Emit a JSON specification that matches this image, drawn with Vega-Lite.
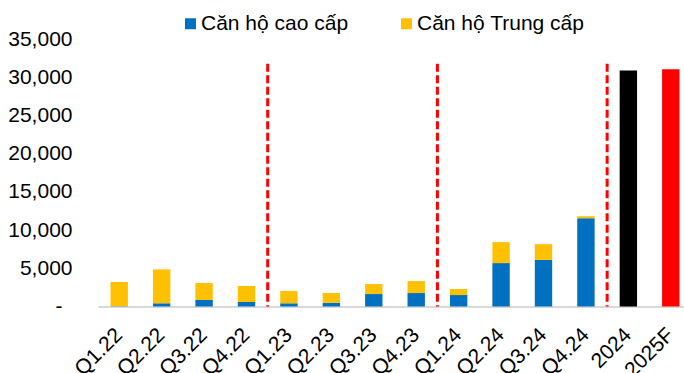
{
  "$schema": "https://vega.github.io/schema/vega-lite/v6.json",
  "width": 586,
  "height": 267.5,
  "autosize": "none",
  "padding": {"left": 98, "top": 39, "right": 0, "bottom": 66.5},
  "config": {
    "view": {"stroke": null},
    "font": "Liberation Sans",
    "axis": {"labelFont": "Liberation Sans", "labelColor": "#000000", "labelFontSize": 21, "labelOverlap": false, "labelSeparation": 0}
  },
  "datasets": {
    "supply": [
      {"cat": "Q1.22", "type": "Căn hộ cao cấp", "value": 30},
      {"cat": "Q1.22", "type": "Căn hộ Trung cấp", "value": 3170},
      {"cat": "Q2.22", "type": "Căn hộ cao cấp", "value": 420},
      {"cat": "Q2.22", "type": "Căn hộ Trung cấp", "value": 4440},
      {"cat": "Q3.22", "type": "Căn hộ cao cấp", "value": 850},
      {"cat": "Q3.22", "type": "Căn hộ Trung cấp", "value": 2220},
      {"cat": "Q4.22", "type": "Căn hộ cao cấp", "value": 590},
      {"cat": "Q4.22", "type": "Căn hộ Trung cấp", "value": 2090},
      {"cat": "Q1.23", "type": "Căn hộ cao cấp", "value": 420},
      {"cat": "Q1.23", "type": "Căn hộ Trung cấp", "value": 1600},
      {"cat": "Q2.23", "type": "Căn hộ cao cấp", "value": 500},
      {"cat": "Q2.23", "type": "Căn hộ Trung cấp", "value": 1260},
      {"cat": "Q3.23", "type": "Căn hộ cao cấp", "value": 1630},
      {"cat": "Q3.23", "type": "Căn hộ Trung cấp", "value": 1310},
      {"cat": "Q4.23", "type": "Căn hộ cao cấp", "value": 1760},
      {"cat": "Q4.23", "type": "Căn hộ Trung cấp", "value": 1570},
      {"cat": "Q1.24", "type": "Căn hộ cao cấp", "value": 1500},
      {"cat": "Q1.24", "type": "Căn hộ Trung cấp", "value": 780},
      {"cat": "Q2.24", "type": "Căn hộ cao cấp", "value": 5680},
      {"cat": "Q2.24", "type": "Căn hộ Trung cấp", "value": 2740},
      {"cat": "Q3.24", "type": "Căn hộ cao cấp", "value": 6110},
      {"cat": "Q3.24", "type": "Căn hộ Trung cấp", "value": 2050},
      {"cat": "Q4.24", "type": "Căn hộ cao cấp", "value": 11550},
      {"cat": "Q4.24", "type": "Căn hộ Trung cấp", "value": 260},
      {"cat": "2024", "type": "2024", "value": 30870},
      {"cat": "2025F", "type": "2025F", "value": 31040}
    ],
    "dividers": [
      {"cat": "Q1.23", "top": 31750},
      {"cat": "Q1.24", "top": 31750},
      {"cat": "2024", "top": 31750}
    ]
  },
  "layer": [
    {
      "data": {"name": "supply"},
      "mark": {"type": "bar"},
      "encoding": {
        "x": {
          "field": "cat",
          "type": "nominal",
          "scale": {
            "domain": ["Q1.22", "Q2.22", "Q3.22", "Q4.22", "Q1.23", "Q2.23", "Q3.23", "Q4.23", "Q1.24", "Q2.24", "Q3.24", "Q4.24", "2024", "2025F"],
            "range": [0, 594],
            "paddingInner": 0.59,
            "paddingOuter": 0.295
          },
          "axis": {
            "title": null,
            "ticks": false,
            "domainColor": "#d9d9d9",
            "domainWidth": 2,
            "labelAngle": -45,
            "labelAlign": "right",
            "labelBaseline": "middle",
            "labelPadding": 25
          }
        },
        "y": {
          "field": "value",
          "type": "quantitative",
          "stack": "zero",
          "scale": {"domain": [0, 35000], "nice": false},
          "axis": {
            "title": null,
            "values": [0, 5000, 10000, 15000, 20000, 25000, 30000, 35000],
            "tickCount": 8,
            "domain": false,
            "ticks": false,
            "grid": false,
            "labelPadding": {"condition": {"test": "datum.value == 0", "value": 36}, "value": 26},
            "labelOverlap": false,
            "labelExpr": "datum.value == 0 ? '-' : format(datum.value, ',')"
          }
        },
        "color": {
          "field": "type",
          "type": "nominal",
          "scale": {
            "domain": ["Căn hộ cao cấp", "Căn hộ Trung cấp", "2024", "2025F"],
            "range": ["#0070C0", "#FFC000", "#000000", "#FF0000"]
          },
          "legend": {
            "values": ["Căn hộ cao cấp", "Căn hộ Trung cấp"],
            "title": null,
            "orient": "none",
            "legendX": 82,
            "legendY": -26,
            "direction": "horizontal",
            "padding": 0,
            "symbolType": "square",
            "symbolSize": 121,
            "symbolStrokeWidth": 0,
            "symbolOpacity": 1,
            "labelFont": "Liberation Sans",
            "labelFontSize": 21,
            "labelColor": "#000000",
            "labelOffset": 0,
            "labelLimit": 300,
            "columnPadding": 47
          }
        },
        "order": {"field": "type", "sort": "descending"}
      }
    },
    {
      "data": {"name": "dividers"},
      "mark": {"type": "rule", "color": "#FF0000", "strokeWidth": 3, "strokeDash": [8, 3.5]},
      "encoding": {
        "x": {"field": "cat", "type": "nominal", "bandPosition": -0.72},
        "y": {"field": "top", "type": "quantitative"},
        "y2": {"datum": 0}
      }
    }
  ]
}
